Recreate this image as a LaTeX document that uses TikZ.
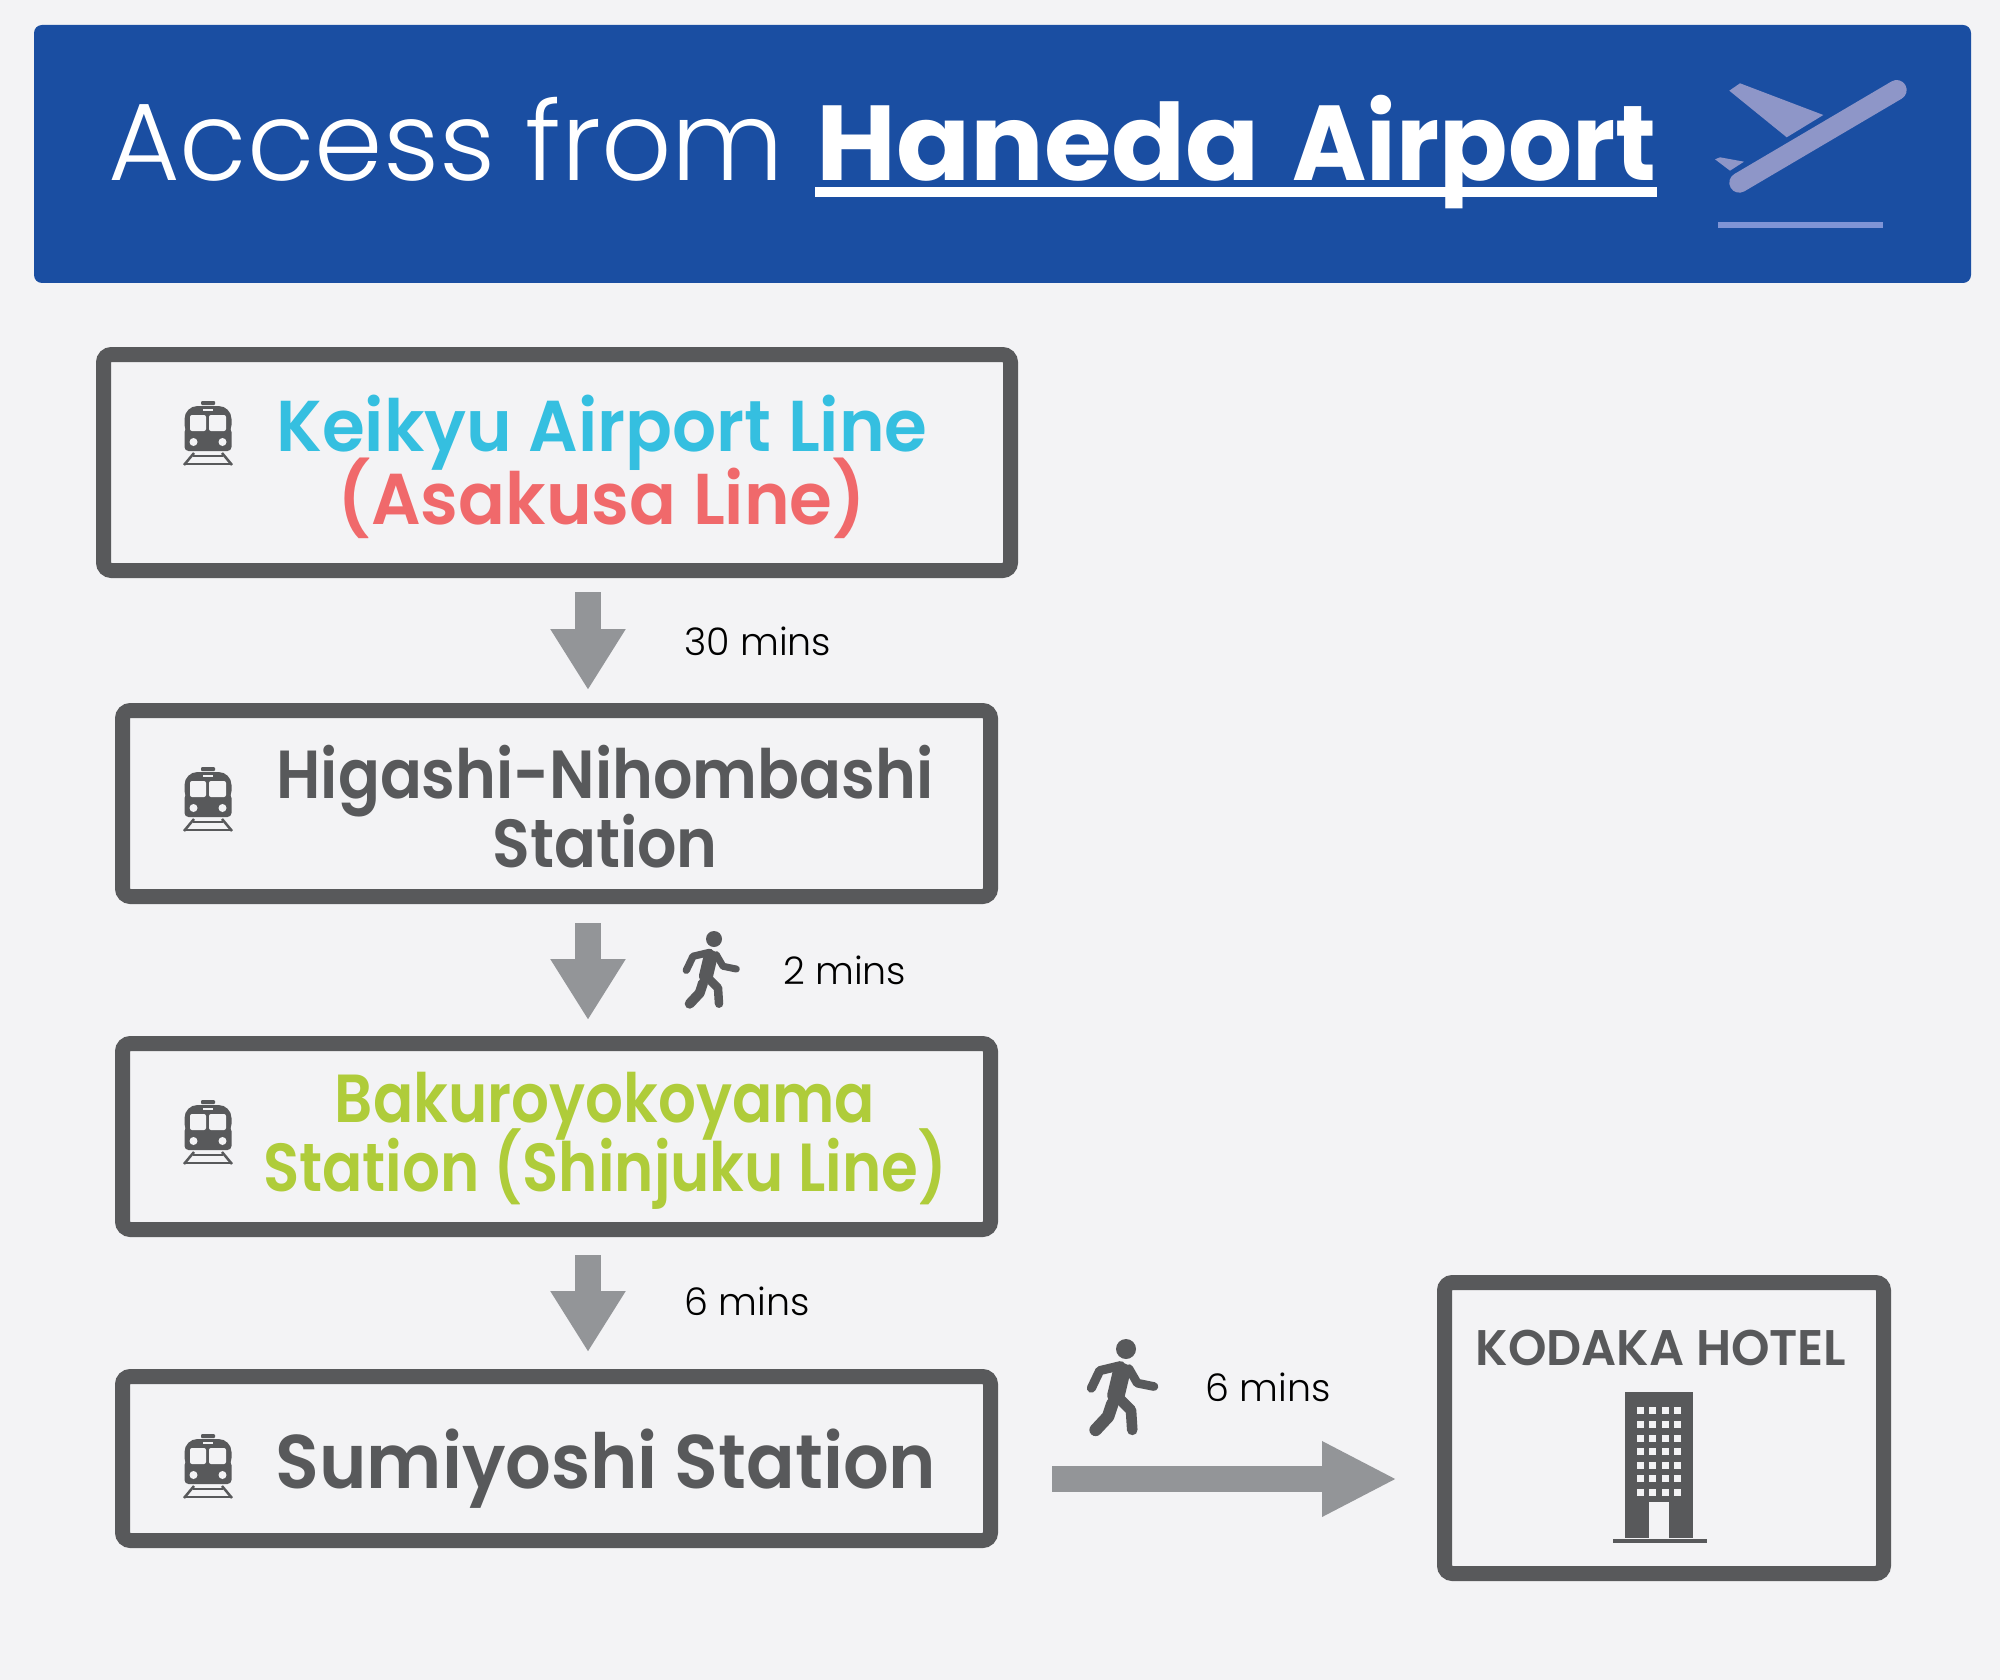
\documentclass[tikz,border=0pt]{standalone}
\usepackage{fontspec}
\setmainfont{Poppins}
\newfontfamily\lightfont{Poppins Light}
\newfontfamily\semifont{Poppins SemiBold}
\usetikzlibrary{arrows.meta}

\definecolor{pagegray}{HTML}{F3F3F5}
\definecolor{headblue}{HTML}{1A4EA2}
\definecolor{planeblue}{HTML}{8E96C8}
\definecolor{runwayblue}{HTML}{7F94D6}
\definecolor{boxgray}{HTML}{58595B}
\definecolor{arrowgray}{HTML}{939598}
\definecolor{keikyucyan}{HTML}{35BFE0}
\definecolor{asakusared}{HTML}{F0696B}
\definecolor{shinjukugreen}{HTML}{AFCC3A}

% size, leading, stretch
\newcommand{\stationfont}[3]{\fontsize{#1}{#2}\semifont\addfontfeature{FakeStretch=#3}\lineskiplimit=-100pt}

\tikzset{
    stationbox/.style={draw=boxgray, line width=15pt, rounded corners=8pt, inner sep=0pt},
    flow/.style={draw=arrowgray, line width=26pt, -{Triangle[length=61pt, width=71pt]}},
    stationtext/.style={text=boxgray, align=center, inner sep=0pt, anchor=base},
    minstext/.style={font=\lightfont\fontsize{38}{38}\selectfont, text=black, inner sep=0pt, anchor=base west}
}

% train icon: x, y
\newcommand{\trainicon}[2]{
    \begin{scope}[shift={(#1,#2)}]
        \fill[boxgray, rounded corners=13pt] (-23.5,5) -- (-23.5,-27) -- (23.5,-27) -- (23.5,5) -- cycle;
        \fill[boxgray, rounded corners=4pt] (-23.5,-5) rectangle (23.5,18);
        \fill[boxgray, rounded corners=1pt] (-7,-28) rectangle (7,-32);
        \fill[pagegray] (-5,-24) rectangle (5,-22);
        \fill[pagegray, rounded corners=2pt] (-18,-18) rectangle (-2,-2);
        \fill[pagegray, rounded corners=2pt] (1,-18) rectangle (18,-2);
        \fill[pagegray] (-14.5,9) circle (4);
        \fill[pagegray] (14.5,9) circle (4);
        \draw[boxgray, line width=2.5pt] (-14,20) -- (-24,32);
        \draw[boxgray, line width=2.5pt] (14,20) -- (24,32);
        \draw[boxgray, line width=2pt] (-15,23) -- (15,23);
        \draw[boxgray, line width=2pt] (-23,31) -- (23,31);
    \end{scope}
}

% walking man: x, y of the head, size
\newcommand{\walker}[3]{
    \begin{scope}[shift={(#1,#2)}, scale=#3, draw=boxgray, line cap=round, line join=round]
        \fill[boxgray] (0,0) circle (8);
        \draw[line width=#3*7.3pt] (-27.7,31.3) -- (-21,17.3) -- (-4.3,13.3);
        \draw[line width=#3*14pt] (-3.5,18) -- (-8,37);
        \draw[line width=#3*7pt] (2.3,15.7) -- (9,27.3) -- (22.3,30);
        \draw[line width=#3*10pt] (-11,44) -- (-14.3,54) -- (-24.3,64.7);
        \draw[line width=#3*8.5pt] (-6,39) -- (4,49) -- (5,64.7);
    \end{scope}
}

\begin{document}
\begin{tikzpicture}[x=1pt, y=-1pt]
    \useasboundingbox (0,0) rectangle (2000,1680);
    \fill[pagegray] (0,0) rectangle (2000,1680);

    % header
    \fill[headblue, rounded corners=8pt] (34,25) rectangle (1971,283);
    \node[inner sep=0pt, anchor=base west, text=white, font=\lightfont\fontsize{110}{110}\selectfont] (title) at (108,181) {Access from};
    \node[inner sep=0pt, anchor=base west, text=white, font=\bfseries\fontsize{106.5}{106.5}\selectfont] (haneda) at (816,181) {{\addfontfeature{FakeStretch=1.027}Haneda}\hspace{10pt} {\addfontfeature{FakeStretch=0.946}Airport}};
    \draw[white, line width=10pt] ([xshift=-1pt, yshift=-10.7pt]haneda.base west) -- ([yshift=-10.7pt]haneda.base east);

    % plane
    \fill[planeblue] (1729.3,90.7) -- (1740,83.3) -- (1823.3,115) -- (1786.7,137.3) -- cycle;
    \fill[planeblue] (1715,159.3) -- (1720,157.3) -- (1744,161.7) -- (1730,170.7) -- cycle;
    \draw[planeblue, line width=20pt, line cap=round] (1739.3,182.7) -- (1896.7,90);
    \fill[runwayblue] (1717.7,222.3) rectangle (1882.7,228.3);

    % stations
    \node[stationbox, minimum width=907pt, minimum height=216pt] (keikyu) at (557,462.5) {};
    \node[stationbox, minimum width=868pt, minimum height=186pt] (higashi) at (556.5,803.5) {};
    \node[stationbox, minimum width=868pt, minimum height=186pt] (bakuro) at (556.5,1136.5) {};
    \node[stationbox, minimum width=868pt, minimum height=164pt] (sumiyoshi) at (556.5,1458.5) {};
    \node[stationbox, minimum width=439pt, minimum height=291pt] (hotel) at (1664,1428) {};

    \node[stationtext, font=\stationfont{72}{73}{0.962}] (keikyutext) at (602,524) {\textcolor{keikyucyan}{Keikyu Airport Line}\\\textcolor{asakusared}{(Asakusa Line)}};
    \node[stationtext, font=\stationfont{68}{69}{0.91}] (higashitext) at (605,867) {Higashi-Nihombashi\\Station};
    \node[stationtext, text=shinjukugreen, font=\stationfont{68}{69}{0.875}] (bakurotext) at (605,1191) {Bakuroyokoyama\\Station (Shinjuku Line)};
    \node[stationtext, font=\stationfont{76}{76}{0.945}] (sumiyoshitext) at (606,1488) {Sumiyoshi Station};
    \node[stationtext, font=\stationfont{50}{50}{0.98}] (hoteltext) at (1661,1365) {KODAKA HOTEL};

    \trainicon{208}{433}
    \trainicon{208}{799}
    \trainicon{208}{1132}
    \trainicon{208}{1466}

    % building
    \fill[boxgray] (1625,1391.7) rectangle (1692.7,1538);
    \fill[pagegray] (1649,1502.3) rectangle (1668.7,1538);
    \fill[boxgray] (1613,1538.7) rectangle (1706.7,1543.3);
    \foreach \wx in {1640.3,1652.7,1665,1677}
        \foreach \wy in {1410.3,1424,1438,1451.3,1465,1478.7,1492.3}
            \fill[pagegray] (\wx-3.5,\wy-3.5) rectangle (\wx+3.5,\wy+3.5);

    % arrows
    \draw[flow, shorten <=14pt, shorten >=13pt] ([xshift=31pt]keikyu.south) -- ([xshift=31.5pt]higashi.north);
    \draw[flow, shorten <=19pt, shorten >=16pt] ([xshift=31.5pt]higashi.south) -- ([xshift=31.5pt]bakuro.north);
    \draw[flow, shorten <=18pt, shorten >=17pt] ([xshift=31.5pt]bakuro.south) -- ([xshift=31.5pt]sumiyoshi.north);
    \coordinate (sumiout) at (1005,1479);
    \coordinate (hotelin) at (1437,1479);
    \draw[flow, -{Triangle[length=75pt, width=70pt]}, shorten <=47pt, shorten >=40pt] (sumiout) -- (hotelin);

    \walker{714}{939}{1}
    \walker{1126}{1349}{1.25}

    \node[minstext] (mins30) at (684,655.5) {30 mins};
    \node[minstext] (mins2) at (783,984.5) {2 mins};
    \node[minstext] (mins6) at (684,1315.5) {6 mins};
    \node[minstext] (minswalk) at (1205,1401) {6 mins};
\end{tikzpicture}
\end{document}
